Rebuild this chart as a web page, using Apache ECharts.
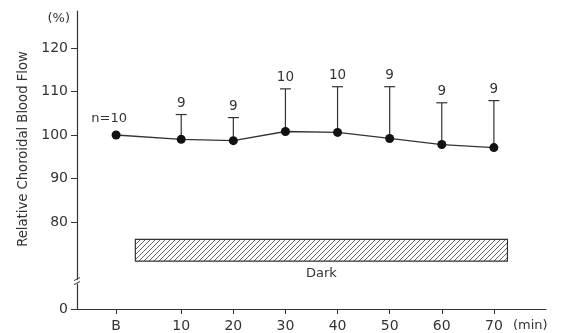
<!DOCTYPE html>
<html><head><meta charset="utf-8">
<script src="https://cdn.jsdelivr.net/npm/echarts@6/dist/echarts.min.js"></script>
<style>html,body{margin:0;padding:0;background:#fff}#c{width:561px;height:333px}</style>
</head><body><div id="c"></div>
<script>
// ---- data ----
var xTickValues = [-2.5, 10, 20, 30, 40, 50, 60, 70];
var xTickLabels = ['B', '10', '20', '30', '40', '50', '60', '70'];
var meanValues = [100, 99.0, 98.7, 100.8, 100.6, 99.2, 97.8, 97.1];
var upperValues = [null, 104.7, 104.0, 110.6, 111.1, 111.1, 107.4, 107.9];
var nLabels = ['n=10', '9', '9', '10', '10', '9', '9', '9'];
var yTickValues = [60, 80, 90, 100, 110, 120];
var yTickLabels = ['0', '80', '90', '100', '110', '120'];
var darkPeriod = [1.2, 72.6];   // minutes
var darkBand = [71, 76];        // y extent of the bar
var darkLabel = 'Dark';
var breakAt = 66.3;

var FONT = 'DejaVu Sans';
var TXT = '#333';

// hatch pattern
var pc = document.createElement('canvas');
pc.width = 5; pc.height = 5;
var g = pc.getContext('2d');
g.fillStyle = '#fff'; g.fillRect(0, 0, 5, 5);
g.strokeStyle = '#555'; g.lineWidth = 0.9;
g.beginPath();
g.moveTo(-1, 6); g.lineTo(6, -1);
g.moveTo(-1, 1); g.lineTo(1, -1);
g.moveTo(4, 6); g.lineTo(6, 4);
g.stroke();

var lineData = xTickValues.map(function (x, i) { return [x, meanValues[i]]; });
var errData = xTickValues.map(function (x, i) { return [x, meanValues[i], upperValues[i] == null ? NaN : upperValues[i], i]; });

var chart = echarts.init(document.getElementById('c'), null, {renderer: 'canvas'});
chart.setOption({
  animation: false,
  grid: {left: 77, right: 15, top: 11, bottom: 23, containLabel: false},
  xAxis: {
    type: 'value', min: -10, max: 80,
    axisLine: {onZero: false, lineStyle: {color: '#333', width: 1.2}},
    axisTick: {show: true, customValues: xTickValues, length: 5, lineStyle: {color: '#333'}},
    axisLabel: {customValues: xTickValues, margin: 10, color: TXT, fontFamily: FONT, fontSize: 14,
      formatter: function (v) { var i = xTickValues.indexOf(v); return i >= 0 ? xTickLabels[i] : ''; }},
    splitLine: {show: false},
    name: '(min)', nameLocation: 'end', nameGap: -33,
    nameTextStyle: {color: TXT, fontFamily: FONT, fontSize: 13, align: 'left', verticalAlign: 'top', padding: [10, 0, 0, 0]}
  },
  yAxis: {
    type: 'value', min: 60, max: 128.5,
    axisLine: {show: true, onZero: false, lineStyle: {color: '#333', width: 1.2}},
    axisTick: {show: true, customValues: yTickValues, length: 6, lineStyle: {color: '#333'}},
    axisLabel: {customValues: yTickValues, margin: 9, color: TXT, fontFamily: FONT, fontSize: 14,
      formatter: function (v) { var i = yTickValues.indexOf(v); return i >= 0 ? yTickLabels[i] : ''; }},
    splitLine: {show: false},
    name: '(%)', nameLocation: 'end', nameGap: -8,
    nameTextStyle: {color: TXT, fontFamily: FONT, fontSize: 13, align: 'right', verticalAlign: 'middle', padding: [0, 7, 0, 0]}
  },
  graphic: [{
    type: 'text', x: 24, y: 149, rotation: Math.PI / 2,
    style: {text: 'Relative Choroidal Blood Flow', fill: TXT, font: '13.2px "' + FONT + '"', align: 'center', verticalAlign: 'middle'}
  }],
  series: [
    {
      type: 'custom', name: 'dark', silent: true, z: 1,
      data: [[darkPeriod[0], darkBand[0], darkPeriod[1], darkBand[1]]],
      renderItem: function (params, api) {
        var p1 = api.coord([api.value(0), api.value(3)]);
        var p2 = api.coord([api.value(2), api.value(1)]);
        return {type: 'group', children: [
          {type: 'rect', shape: {x: p1[0], y: p1[1], width: p2[0] - p1[0], height: p2[1] - p1[1]},
           style: {fill: {image: pc, repeat: 'repeat'}, stroke: '#333', lineWidth: 1.2}},
          {type: 'text', x: (p1[0] + p2[0]) / 2, y: p2[1] + 12,
           style: {text: darkLabel, fill: TXT, font: '13px "' + FONT + '"', align: 'center', verticalAlign: 'middle'}}
        ]};
      }
    },
    {
      type: 'custom', name: 'break', silent: true, z: 5, clip: false,
      data: [[-10, breakAt]],
      renderItem: function (params, api) {
        var p = api.coord([api.value(0), api.value(1)]);
        return {type: 'group', children: [
          {type: 'rect', shape: {x: p[0] - 2, y: p[1] - 2, width: 4, height: 4}, style: {fill: '#fff'}},
          {type: 'line', shape: {x1: p[0] - 3, y1: p[1] - 1, x2: p[0] + 3, y2: p[1] - 4}, style: {stroke: '#333', lineWidth: 1}},
          {type: 'line', shape: {x1: p[0] - 3, y1: p[1] + 3, x2: p[0] + 3, y2: p[1]}, style: {stroke: '#333', lineWidth: 1}}
        ]};
      }
    },
    {
      type: 'custom', name: 'err', silent: true, z: 3,
      data: errData,
      renderItem: function (params, api) {
        var x = api.value(0), m = api.value(1), hi = api.value(2), idx = api.value(3);
        var pm = api.coord([x, m]);
        var children = [];
        var f = '13.5px "' + FONT + '"';
        if (!isNaN(hi)) {
          var ph = api.coord([x, hi]);
          children.push({type: 'line', shape: {x1: pm[0], y1: pm[1], x2: ph[0], y2: ph[1]}, style: {stroke: '#333', lineWidth: 1.2}});
          children.push({type: 'line', shape: {x1: ph[0] - 5.5, y1: ph[1], x2: ph[0] + 5.5, y2: ph[1]}, style: {stroke: '#333', lineWidth: 1.2}});
          children.push({type: 'text', x: ph[0], y: ph[1] - 11,
            style: {text: nLabels[idx], fill: TXT, font: f, align: 'center', verticalAlign: 'middle'}});
        } else {
          children.push({type: 'text', x: pm[0] - 7, y: pm[1] - 16,
            style: {text: nLabels[idx], fill: TXT, font: '13px "' + FONT + '"', align: 'center', verticalAlign: 'middle'}});
        }
        return {type: 'group', children: children};
      }
    },
    {
      type: 'line', name: 'mean', z: 4,
      data: lineData,
      symbol: 'circle', symbolSize: 9,
      itemStyle: {color: '#111'},
      lineStyle: {color: '#333', width: 1.3}
    }
  ]
});
</script></body></html>
